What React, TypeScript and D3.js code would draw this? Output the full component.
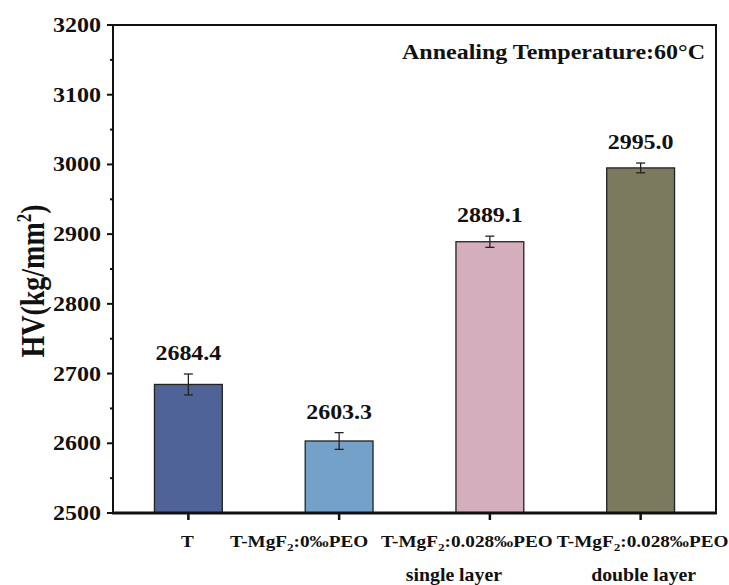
import React from 'react';
import * as d3 from 'd3';

// values
const categories = ['T', 'T-MgF2:0‰PEO', 'T-MgF2:0.028‰PEO single', 'T-MgF2:0.028‰PEO double'];
const labelMain = ['T', '0‰PEO', '0.028‰PEO', '0.028‰PEO'];
const labelSub = ['', '', 'single layer', 'double layer'];
const hv = [2684.4, 2603.3, 2889.1, 2995.0];
const hvErr = [15, 12, 8, 7];
const barColors = ['#4f6399', '#74a1c8', '#d4aebc', '#7a7a5f'];
const yTicks = [2500, 2600, 2700, 2800, 2900, 3000, 3100, 3200];

// layout
const W = 729;
const H = 585;
const left = 113;
const right = 716;
const top = 25;
const bottom = 513;
const SX = 1.2; // the reference is stretched horizontally
const font = '"Liberation Serif", "Times New Roman", serif';
const labelNudge = [-1, -40, -23, 2];
const subNudge = [0, 0, -13, 1];

function SText({ x, y, anchor = 'middle', size, sx = SX, children }: any) {
  return (
    <text
      transform={`translate(${x},${y}) scale(${sx},1)`}
      textAnchor={anchor}
      fontSize={size}
      fontWeight="bold"
      fontFamily={font}
      fill="#111"
    >
      {children}
    </text>
  );
}

export default function App() {
  const x = d3.scaleBand<string>().domain(categories).range([left, right]).padding(0);
  const y = d3.scaleLinear().domain([2500, 3200]).range([bottom, top]);
  const barW = x.bandwidth() * 0.45;
  const minor = d3.range(2550, 3200, 100);

  return (
    <svg width={W} height={H} style={{ position: 'absolute', left: 0, top: 0, background: '#fff' }}>
      {/* bars */}
      {categories.map((c, i) => {
        const cx = x(c)! + x.bandwidth() / 2;
        const hi = y(hv[i] + hvErr[i]);
        const lo = y(hv[i] - hvErr[i]);
        return (
          <g key={c}>
            <rect
              x={cx - barW / 2}
              y={y(hv[i])}
              width={barW}
              height={bottom - y(hv[i])}
              fill={barColors[i]}
              stroke="#222"
              strokeWidth={1.3}
            />
            <line x1={cx} x2={cx} y1={hi} y2={lo} stroke="#222" strokeWidth={1.3} />
            <line x1={cx - 4.5} x2={cx + 4.5} y1={hi} y2={hi} stroke="#222" strokeWidth={1.3} />
            <line x1={cx - 4.5} x2={cx + 4.5} y1={lo} y2={lo} stroke="#222" strokeWidth={1.3} />
            <SText x={cx} y={hi - 14} size={20}>
              {hv[i].toFixed(1)}
            </SText>
          </g>
        );
      })}

      {/* frame */}
      <rect x={left} y={top} width={right - left} height={bottom - top} fill="none" stroke="#111" strokeWidth={2} />
      <line x1={left - 1} x2={right + 1} y1={bottom} y2={bottom} stroke="#111" strokeWidth={3} />

      {/* y axis */}
      {yTicks.map((t) => (
        <g key={t}>
          <line x1={left - 6} x2={left} y1={y(t)} y2={y(t)} stroke="#111" strokeWidth={2} />
          <SText x={left - 12} y={y(t) + 7} anchor="end" size={20}>
            {t}
          </SText>
        </g>
      ))}
      {minor.map((t) => (
        <line key={t} x1={left - 3} x2={left} y1={y(t)} y2={y(t)} stroke="#111" strokeWidth={2} />
      ))}
      <text
        transform={`translate(44,281) rotate(-90) scale(1,${SX})`}
        textAnchor="middle"
        fontSize={28}
        fontWeight="bold"
        fontFamily={font}
        fill="#111"
      >
        HV(kg/mm<tspan dy={-11} fontSize={17}>2</tspan>
        <tspan dy={11}>)</tspan>
      </text>

      {/* x axis */}
      {categories.map((c, i) => {
        const cx = x(c)! + x.bandwidth() / 2;
        return (
          <g key={c}>
            <line x1={cx} x2={cx} y1={bottom} y2={bottom + 7} stroke="#111" strokeWidth={2.5} />
            <SText x={cx + labelNudge[i]} y={547} size={16}>
              {i === 0 ? (
                labelMain[i]
              ) : (
                <>
                  T-MgF<tspan dy={4} fontSize={11}>2</tspan>
                  <tspan dy={-4}>:{labelMain[i]}</tspan>
                </>
              )}
            </SText>
            {labelSub[i] && (
              <SText x={cx + labelNudge[i] + subNudge[i]} y={581} size={18} sx={1.1}>
                {labelSub[i]}
              </SText>
            )}
          </g>
        );
      })}

      {/* annotation */}
      <SText x={705} y={59} anchor="end" size={20}>
        Annealing Temperature:60°C
      </SText>
    </svg>
  );
}
